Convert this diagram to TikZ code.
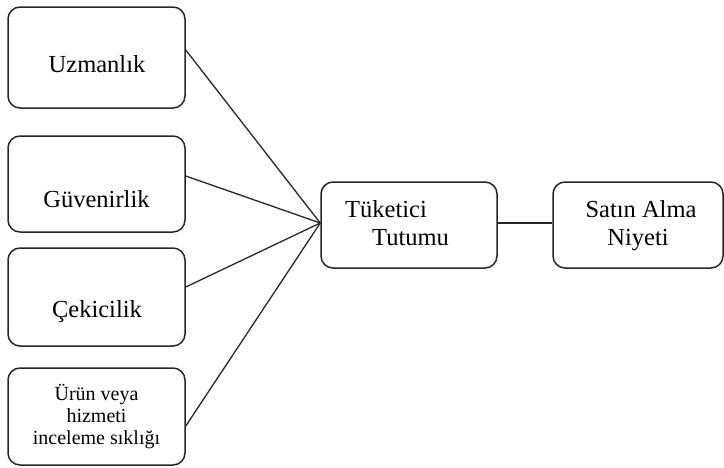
\documentclass[tikz,border=0pt]{standalone}
\usepackage{fontspec}
\setmainfont{Liberation Serif}
\begin{document}
\begin{tikzpicture}[x=1pt,y=-1pt,
  box/.style={draw=black!85, line width=1.5pt, rounded corners=12pt, inner sep=0pt},
  lbl/.style={font=\fontsize{24.5}{28}\selectfont, anchor=base, inner sep=0pt, text=black},
  small/.style={font=\fontsize{20}{22}\selectfont, align=center, inner sep=0pt, text=black},
  link/.style={draw=black!85, line width=1.3pt}]
\useasboundingbox (0,0) rectangle (724,467);

% factor boxes on the left
\node[box, minimum width=177pt, minimum height=101pt] (uz) at (96.5,57.5) {};
\node[box, minimum width=177pt, minimum height=96pt]  (gu) at (96.5,184) {};
\node[box, minimum width=177pt, minimum height=98pt]  (ce) at (96.5,297) {};
\node[box, minimum width=177pt, minimum height=97pt]  (ur) at (96.5,416.5) {};

% attitude and intention boxes
\node[box, minimum width=176pt, minimum height=86pt] (tu) at (409,225) {};
\node[box, minimum width=170pt, minimum height=86pt] (sa) at (638,225) {};

% labels
\node[lbl] (uzt) at (97,72) {Uzmanlık};
\node[lbl] (gut) at (96.5,207) {Güvenirlik};
\node[lbl] (cet) at (97,317) {Çekicilik};
\node[small] (urt) at (96.5,416.5) {Ürün veya\\hizmeti\\inceleme sıklığı};
\node[lbl, anchor=base west] (tut1) at (345,217) {Tüketici};
\node[lbl, anchor=base west] (tut2) at (372,245) {Tutumu};
\node[lbl] (sat1) at (641,217) {Satın Alma};
\node[lbl] (sat2) at (638,245) {Niyeti};

% connectors
\coordinate (hub) at ([yshift=2pt]tu.west);
\draw[link] ([yshift=7.5pt]uz.east) -- (hub);
\draw[link] ([yshift=8pt]gu.east) -- (hub);
\draw[link] ([yshift=10pt]ce.east) -- (hub);
\draw[link] ([yshift=-9.5pt]ur.east) -- (hub);
\draw[link] (tu.east |- hub) -- (sa.west |- hub);
\end{tikzpicture}
\end{document}
